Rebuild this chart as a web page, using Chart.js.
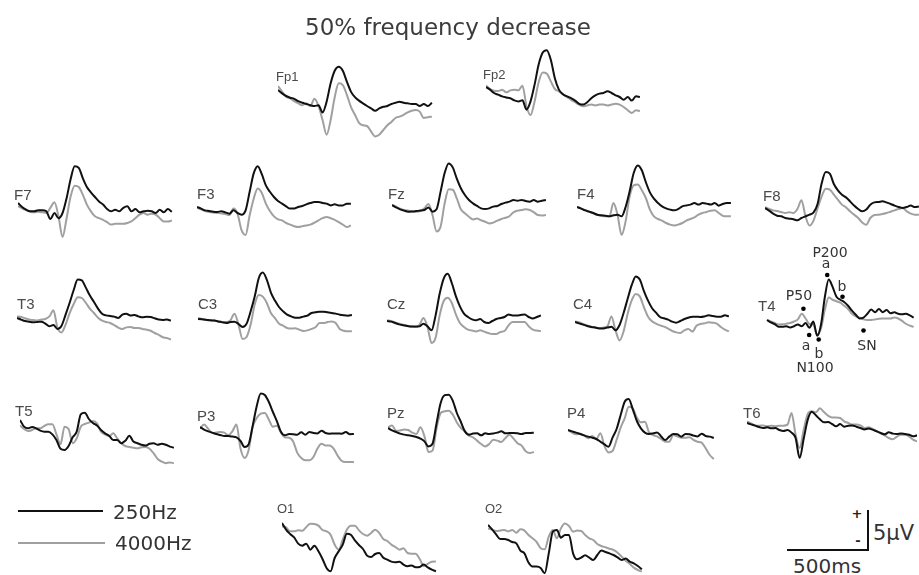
<!DOCTYPE html>
<html><head><meta charset="utf-8">
<script src="https://cdn.jsdelivr.net/npm/chart.js@4.4.0/dist/chart.umd.min.js"></script>
<style>
html,body{margin:0;padding:0;width:919px;height:575px;overflow:hidden;background:#fff;}
#stage{position:relative;width:919px;height:575px;overflow:hidden;}
canvas{position:absolute;}
.t{position:absolute;white-space:nowrap;line-height:1;color:#444;}
</style></head><body><div id="stage"></div>
<script>
// time axis (ms), 25 ms steps
const times = [-200,-175,-150,-125,-100,-75,-50,-25,0,25,50,75,100,125,150,175,200,225,250,275,300,325,350,375,400,425,450,475,500,525,550,575,600,625,650,675,700,725,750,775,800,825,850];

// amplitudes in microvolts (positive up); *_250 = 250Hz (black), *_4000 = 4000Hz (gray)
const fp1_250 = [0,-0.42,-0.75,-0.96,-1.1,-1.4,-1.6,-1.75,-1.9,-2.0,-1.9,-2.8,-1.46,0.83,2.4,2.9,2.4,1.04,-0.2,-0.9,-1.33,-1.67,-2.0,-2.3,-2.6,-2.3,-2.1,-2.0,-1.75,-1.6,-1.46,-1.6,-1.67,-1.75,-1.75,-2.0,-1.75,-2.0,-1.6];
const fp1_4000 = [0.5,-0.2,-0.83,-1.04,-1.4,-1.67,-1.9,-1.67,-2.0,-1.1,-2.0,-3.75,-5.6,-3.75,-0.9,0.83,0.62,-0.6,-2.1,-3.1,-4.1,-4.4,-4.5,-5.2,-5.8,-5.6,-5.0,-4.4,-4.0,-3.5,-3.33,-3.1,-2.8,-2.6,-2.5,-2.7,-3.5,-3.4,-3.33];
const fp2_250 = [0,-0.33,-0.75,-0.96,-1.17,-1.3,-1.4,-1.67,-1.8,-1.67,-2.83,-1.8,0.3,2.8,4.3,4.6,3.4,1.1,-0.33,-0.9,-1.17,-1.4,-1.7,-2.1,-2.2,-1.9,-1.4,-1.04,-0.83,-0.75,-0.54,-0.75,-1.04,-1.25,-1.6,-1.25,-1.7,-1.17,-1.25];
const fp2_4000 = [0.17,-0.25,-0.46,-0.5,-0.33,-0.67,-0.42,-0.33,-0.42,0.17,-2.4,-3.5,-1.8,0.6,1.8,1.67,0.7,-0.25,-0.54,-0.9,-1.25,-1.6,-1.9,-2.2,-2.4,-2.3,-2.2,-2.3,-2.2,-2.2,-2.3,-2.2,-2.1,-2.2,-2.5,-2.9,-3.25,-2.9,-3.0];
const f7_250 = [0,-0.5,-0.83,-1.04,-1.04,-0.9,-0.9,-1.04,-2.0,-1.25,-1.9,-1.25,0.6,3.0,4.6,4.4,3.1,2.0,1.33,0.75,0.2,-0.2,-0.75,-1.04,-0.83,-1.04,-0.6,-0.4,-1.04,-0.75,-1.17,-1.04,-0.96,-1.04,-1.25,-0.83,-1.17,-0.75,-1.1];
const f7_4000 = [-0.4,-0.67,-0.9,-1.1,-1.17,-1.1,-1.17,-1.25,-0.6,0.08,-1.67,-4.25,-1.9,0.83,2.17,2.0,1.04,-0.2,-1.04,-1.67,-1.9,-2.1,-2.4,-2.7,-2.6,-2.6,-2.6,-2.5,-2.3,-1.9,-1.46,-1.25,-1.46,-1.33,-1.46,-1.9,-2.3,-2.3,-2.2];
const f3_250 = [0,-0.2,-0.42,-0.5,-0.58,-0.62,-0.54,-0.67,-0.83,-0.42,-0.75,-0.96,-0.42,1.9,4.2,5.1,4.1,2.7,1.9,1.25,0.75,0.42,0.08,-0.2,-0.2,0,0.12,0.33,0.5,0.62,0.62,0.5,0.42,0.2,0.33,0.2,0.2,0.42,0.42];
const f3_4000 = [-0.08,-0.3,-0.5,-0.62,-0.7,-0.75,-0.8,-0.88,-1.0,-0.2,-0.83,-2.9,-3.5,-1.04,1.04,2.3,1.75,0.42,-0.5,-1.17,-1.54,-1.67,-2.0,-2.2,-2.4,-2.5,-2.4,-2.3,-2.2,-1.96,-1.67,-1.4,-1.25,-1.4,-1.6,-1.9,-2.2,-2.5,-2.3];
const fz_250 = [0,-0.3,-0.54,-0.7,-0.83,-0.8,-0.75,-0.7,-0.62,-0.3,-0.83,-0.54,1.67,4.0,5.2,4.7,3.3,2.1,1.25,0.62,0.2,-0.12,-0.42,-0.5,-0.42,-0.2,-0.12,0.12,0.3,0.42,0.62,0.54,0.62,0.5,0.42,0.62,0.42,0.54,0.62];
const fz_4000 = [0,-0.2,-0.46,-0.62,-0.7,-0.8,-0.83,-0.75,-0.42,0.12,-1.25,-3.3,-2.7,0.2,1.96,1.9,0.83,-0.54,-1.04,-1.46,-1.8,-1.7,-1.9,-2.1,-2.3,-2.2,-1.96,-1.75,-1.6,-1.4,-0.9,-0.7,-0.62,-0.54,-0.62,-0.9,-1.25,-1.3,-1.25];
const f4_250 = [0,-0.2,-0.42,-0.58,-0.75,-0.96,-1.04,-1.1,-1.17,-1.04,-0.96,-1.17,0,1.96,4.25,5.2,4.6,3.1,1.83,1.04,0.5,0.08,-0.17,-0.33,-0.42,-0.25,0.08,0.2,0.3,0.5,0.3,0.5,0.42,0.3,0.5,0.17,0.38,0.5,0.5];
const f4_4000 = [0,-0.17,-0.38,-0.58,-0.8,-0.96,-1.1,-1.17,-1.17,0.5,-0.96,-3.5,-1.8,1.33,2.7,2.8,2.1,1.125,-0.33,-1.17,-1.5,-1.7,-2.0,-2.2,-2.3,-2.2,-2.0,-1.7,-1.5,-1.3,-0.96,-0.75,-0.62,-0.46,-0.42,-0.75,-1.1,-1.17,-1.17];
const f8_250 = [0,-0.33,-0.7,-0.96,-1.04,-1.25,-1.33,-1.4,-1.54,-1.25,-1.04,-0.83,-0.54,0.54,3.1,4.5,4.3,3.0,2.2,1.67,1.33,0.83,0.3,-0.12,-0.42,-0.2,0.42,0.7,0.75,0.83,0.7,0.5,0.3,0.12,0,0.12,0.3,0.12,0.2];
const f8_4000 = [0.12,-0.12,-0.3,-0.38,-0.5,-0.62,-0.54,-0.62,-0.12,0.96,-1.04,-2.2,-1.54,0,1.46,2.4,2.3,1.67,1.04,0.42,0.08,-0.42,-0.83,-1.25,-1.8,-2.1,-1.25,-0.88,-0.83,-0.75,-0.62,-0.46,-0.3,-0.12,0,-0.42,-0.7,-0.83,-0.83];
const t3_250 = [0,-0.2,-0.38,-0.46,-0.54,-0.5,-0.46,-0.7,-1.04,-0.88,-1.375,-0.96,0.42,1.9,3.5,4.8,4.7,3.8,2.8,2.0,1.17,0.54,0.33,0.25,0.17,0,0.42,0.54,0.3,0.38,0.2,0.08,0.17,0.12,-0.04,-0.2,-0.25,-0.2,-0.33];
const t3_4000 = [0.2,0.12,-0.04,-0.2,-0.25,-0.3,-0.2,-0.12,0.2,0.96,-1.25,-1.8,-0.83,0.62,1.75,2.6,2.5,1.9,1.17,0.62,0.04,-0.33,-0.5,-0.62,-0.88,-1.2,-1.375,-1.17,-1.125,-1.25,-1.25,-1.375,-1.46,-1.6,-1.875,-2.1,-2.4,-2.5,-2.7];
const c3_250 = [0,-0.04,-0.08,-0.17,-0.2,-0.3,-0.42,-0.5,-0.375,-0.33,-0.62,-1.0,-0.58,0.96,2.8,5.1,5.8,4.9,3.3,2.3,1.5,0.96,0.54,0.33,0.17,0.17,0.3,0.42,0.75,0.83,0.92,0.92,0.83,0.75,0.67,0.54,0.46,0.42,0.5];
const c3_4000 = [0.12,0,-0.12,-0.17,-0.2,-0.3,-0.375,-0.375,-0.17,0.67,-0.7,-2.5,-2.25,-0.7,1.8,3.0,2.8,2.0,0.75,0.12,-0.58,-0.83,-1.125,-1.2,-1.17,-1.33,-1.5,-1.42,-1.25,-1.04,-0.5,-0.5,-0.375,-0.3,-0.5,-1.25,-1.46,-1.54,-1.54];
const cz_250 = [0,-0.08,-0.25,-0.42,-0.54,-0.62,-0.7,-0.7,-0.67,-0.33,-0.67,-1.17,0.7,3.4,5.3,5.9,4.75,3.1,1.83,0.92,0.5,0.2,0.08,0.25,-0.125,-0.25,0,0.25,0.375,0.5,0.8,0.7,0.7,0.75,0.8,0.5,0.3,0.5,0.7];
const cz_4000 = [0.08,0,-0.17,-0.33,-0.46,-0.58,-0.7,-0.75,-0.5,0.375,-0.75,-2.75,-2.1,0.7,2.5,2.9,2.25,0.83,-0.25,-0.75,-1.08,-1.2,-1.3,-1.17,-1.33,-1.5,-1.625,-1.625,-1.375,-1.25,-0.54,-0.125,-0.125,-0.125,-0.125,-0.67,-1.08,-1.2,-1.25];
const c4_250 = [0,-0.17,-0.33,-0.5,-0.62,-0.7,-0.8,-0.8,-0.7,-0.58,-1.04,-0.375,1.125,2.9,4.6,5.7,5.3,3.9,2.7,1.75,1.17,0.625,0.46,0.3,0.04,-0.08,0.125,0.375,0.54,0.67,0.67,0.625,0.7,0.83,0.75,0.67,0.67,0.83,0.7];
const c4_4000 = [0.08,-0.04,-0.25,-0.42,-0.58,-0.67,-0.75,-0.7,-0.54,0.7,-1.04,-2.3,-1.17,1.04,2.7,3.5,3.2,1.875,0.7,0.08,-0.2,-0.42,-0.58,-0.83,-1.125,-1.3,-1.375,-1.04,-0.875,-1.2,-0.46,-0.25,-0.17,-0.04,-0.08,-0.2,-0.625,-0.96,-1.17];
const t4_250 = [0,-0.33,-0.54,-0.9,-0.9,-0.83,-1.0,-0.83,-0.6,-0.83,-0.4,-1.04,-0.2,-2.1,-0.6,3.1,5.4,4.4,3.1,2.7,2.4,1.9,1.25,0.7,0.2,0.33,0.83,1.4,1.04,1.46,1.04,1.33,0.9,1.04,0.83,0.75,0.83,0.62,0.33];
const t4_4000 = [0,-0.2,-0.4,-0.6,-0.58,-0.5,-0.4,-0.2,0.08,0.83,0.2,-0.54,-0.6,-2.0,-1.1,1.4,3.0,2.7,2.5,2.3,1.9,1.46,0.83,0.5,0.3,0.08,0,0,0.08,0.17,0.2,0.2,0.2,0.33,0.2,-0.12,-0.5,-0.75,-0.9];
const t5_250 = [0,-0.83,-1.04,-0.875,-1.04,-1.33,-1.46,-1.46,-1.8,-2.5,-3.6,-3.75,-3.25,-2.17,-1.46,0.7,0.92,0.125,-0.375,-0.7,-1.25,-1.67,-1.96,-2.5,-2.5,-2.9,-2.6,-1.96,-2.7,-2.9,-3.1,-3.2,-2.96,-2.9,-3.1,-2.96,-3.1,-3.33,-3.46];
const t5_4000 = [-0.7,-1.125,-1.375,-1.25,-1.04,-1.04,-0.75,-0.54,-0.54,-1.8,-3.04,-0.83,-1.125,-2.9,-2.3,-0.83,-0.5,-0.33,-0.125,-0.42,-1.46,-1.8,-2.04,-1.67,-2.3,-2.9,-3.25,-3.375,-3.46,-3.54,-3.4,-3.375,-3.6,-4.17,-4.875,-5.2,-5.4,-5.3,-5.4];
const p3_250 = [0,-0.33,-0.54,-0.7,-0.875,-1.0,-1.125,-1.125,-1.2,-1.3,-1.75,-2.5,-2.17,0.125,2.6,4.2,4.0,3.125,1.875,0.7,-0.625,-1.04,-0.875,-0.9,-0.96,-0.67,-0.96,-0.625,-0.75,-0.8,-0.46,-0.75,-0.83,-0.8,-0.8,-0.83,-0.625,-0.9,-0.875];
const p3_4000 = [-0.2,0.3,-0.2,-0.75,-0.7,-0.625,-0.7,-1.04,-0.54,0.3,-2.7,-3.875,-2.9,0,1.125,1.67,1.75,0.92,0.04,0.17,-0.7,-1.3,-1.33,-1.8,-3.2,-3.875,-4.17,-4.17,-3.75,-2.7,-2.1,-2.3,-2.3,-2.7,-3.6,-4.25,-4.375,-4.375,-4.375];
const pz_250 = [0,-0.3,-0.5,-0.7,-0.83,-0.92,-1.0,-1.125,-1.33,-1.67,-2.3,-1.96,0.625,3.125,4.1,4.17,3.4,1.875,0.75,-0.42,-0.83,-0.7,-0.67,-0.92,-0.67,-0.75,-0.7,-0.58,-0.42,-0.67,-0.625,-0.625,-0.67,-0.75,-0.625,-0.625,-0.58];
const pz_4000 = [0.08,0.3,-0.33,-0.3,-0.2,-0.25,-0.58,-0.75,0.08,-1.04,-3.0,-2.83,0,1.875,2.08,2.17,1.67,0.7,0,-0.46,-0.96,-1.17,-1.58,-2.0,-2.3,-2.0,-1.46,-1.58,-1.75,-1.25,-0.83,-1.33,-1.9,-2.2,-2.9,-3.125,-3.0];
const p4_250 = [0,-0.17,-0.33,-0.5,-0.67,-0.83,-0.96,-1.125,-1.46,-1.8,-2.08,-0.96,0.125,1.875,3.54,3.875,2.58,1.125,0.2,-0.33,-0.5,-0.42,-0.3,-0.8,-1.25,-0.83,-0.5,-0.54,-0.83,-0.5,-0.54,-0.7,-0.8,-0.46,-0.75,-0.83,-1.0];
const p4_4000 = [0,-0.33,-0.54,-0.46,-0.7,-1.04,-0.75,-1.125,-0.42,-2.0,-2.8,-2.625,-1.25,0.3,1.46,2.9,2.7,1.54,0.96,1.04,-0.3,-0.625,-0.8,-1.125,-1.46,-1.46,-0.625,-0.8,-0.96,-0.96,-0.92,-1.25,-1.46,-1.58,-2.3,-3.125,-3.625];
const t6_250 = [0,-0.17,-0.33,-0.5,-0.625,-0.54,-0.67,-0.625,-0.875,-1.0,-0.875,-1.2,-1.875,-4.375,-1.96,0.42,1.4,0.96,0.46,0.08,0.125,-0.125,-0.42,-0.125,-0.46,-0.33,-0.3,-0.46,-0.625,-0.8,-0.7,-0.83,-1.04,-1.25,-1.42,-1.17,-1.33,-1.375,-1.3,-1.375,-1.46,-1.67,-1.54];
const t6_4000 = [0.2,-0.04,-0.3,-0.33,-0.3,-0.42,-0.33,-0.42,-0.33,-0.33,-0.2,1.25,-1.46,-3.125,-0.83,1.125,1.46,1.33,1.83,1.375,0.92,0.7,0.7,0.625,0.21,0,-0.2,-0.2,-0.3,-0.625,-0.54,-0.75,-1.0,-1.25,-1.54,-1.875,-2.04,-1.71,-1.46,-1.46,-1.67,-2.08,-2.3];
const o1_250 = [0,-0.83,-1.375,-1.8,-2.58,-2.83,-2.58,-3.33,-2.83,-3.54,-4.5,-5.625,-6.04,-4.375,-3.54,-2.7,-1.33,-1.46,-2.17,-2.75,-3.25,-4.08,-4.25,-3.875,-3.75,-4.33,-4.58,-4.83,-4.9,-4.83,-5.2,-5.4,-5.3,-5.54,-5.5,-5.2,-5.54,-5.83,-6.04];
const o1_4000 = [-0.42,-0.54,-1.04,-1.04,-0.92,-0.96,-0.5,-0.08,-0.125,-0.33,-0.875,-1.04,-1.46,-2.7,-3.33,-2.08,-0.83,-0.33,-0.33,-0.92,-1.375,-1.58,-1.25,-0.83,-1.25,-2.0,-2.25,-2.7,-3.0,-3.33,-3.17,-3.75,-3.83,-3.83,-4.5,-5.4,-5.1,-4.83,-4.8];
const o2_250 = [0,-0.54,-1.17,-1.75,-1.75,-1.875,-2.125,-2.3,-3.2,-3.54,-4.7,-5.2,-5.2,-5.375,-6.04,-3.54,-0.83,-0.625,-1.58,-1.25,-1.25,-3.54,-4.29,-4.08,-3.79,-4.08,-4.375,-3.75,-3.2,-3.375,-3.54,-3.75,-4.04,-4.375,-4.2,-4.58,-4.79,-5.125,-5.54];
const o2_4000 = [-0.42,-0.58,-0.75,-0.7,-0.625,-0.8,-0.625,-0.96,-0.54,-0.7,-1.25,-1.67,-2.125,-2.9,-3.04,-1.46,-0.625,-1.67,-0.42,0.2,-0.125,-0.83,-0.7,-0.75,-1.25,-1.67,-1.875,-2.375,-2.625,-2.79,-2.96,-3.125,-3.46,-3.96,-4.46,-4.875,-5.33,-5.625,-5.83];

// T4 component markers
const t4MarkTimes = [36, 73, 135, 190, 289, 425];
const t4MarkValues = [1.5, -2.0, -2.6, 6.0, 3.1, -1.4];

const seriesNames = ['250Hz', '4000Hz'];
const titleText = '50% frequency decrease';

// ---- layout ----
const stage = document.getElementById('stage');
function addText(txt, x, y, o) {
  o = o || {};
  const d = document.createElement('div');
  d.className = 't';
  d.textContent = txt;
  d.style.left = x + 'px';
  d.style.top = y + 'px';
  d.style.fontFamily = o.font || '"Liberation Sans", Arial, sans-serif';
  d.style.fontSize = (o.size || 15) + 'px';
  if (o.color) d.style.color = o.color;
  if (o.bold) d.style.fontWeight = 'bold';
  d.style.transform = o.center ? 'translate(-50%,-50%)' : 'translate(0,-50%)';
  stage.appendChild(d);
}
function addBox(x, y, w, h, color) {
  const d = document.createElement('div');
  d.style.position = 'absolute';
  d.style.left = x + 'px'; d.style.top = y + 'px';
  d.style.width = w + 'px'; d.style.height = h + 'px';
  d.style.background = color;
  stage.appendChild(d);
}

const BLACK = '#111111', GRAY = '#a0a0a0';
const PX_PER_MS = 81 / 500, PX_PER_UV = 8;
const W = 170, H = 130;

const panels = [
  {name:'Fp1', x:278, y:90,  lx:276, ly:76,  b:fp1_250, g:fp1_4000, ls:13},
  {name:'Fp2', x:486, y:87,  lx:483, ly:74,  b:fp2_250, g:fp2_4000, ls:13},
  {name:'F7',  x:18,  y:203, lx:14,  ly:194, b:f7_250,  g:f7_4000},
  {name:'F3',  x:197, y:207, lx:197, ly:193, b:f3_250,  g:f3_4000},
  {name:'Fz',  x:392, y:205, lx:388, ly:193, b:fz_250,  g:fz_4000},
  {name:'F4',  x:577, y:207, lx:577, ly:193, b:f4_250,  g:f4_4000},
  {name:'F8',  x:765, y:208, lx:763, ly:195, b:f8_250,  g:f8_4000},
  {name:'T3',  x:17,  y:318, lx:17,  ly:303, b:t3_250,  g:t3_4000},
  {name:'C3',  x:198, y:319, lx:198, ly:303, b:c3_250,  g:c3_4000},
  {name:'Cz',  x:387, y:321, lx:387, ly:303, b:cz_250,  g:cz_4000},
  {name:'C4',  x:575, y:322, lx:573, ly:303, b:c4_250,  g:c4_4000},
  {name:'T4',  x:763, y:320, lx:758, ly:305, b:t4_250,  g:t4_4000, marks:true},
  {name:'T5',  x:20,  y:420, lx:15,  ly:410, b:t5_250,  g:t5_4000},
  {name:'P3',  x:200, y:427, lx:197, ly:415, b:p3_250,  g:p3_4000},
  {name:'Pz',  x:388, y:428, lx:387, ly:412, b:pz_250,  g:pz_4000},
  {name:'P4',  x:568, y:430, lx:567, ly:412, b:p4_250,  g:p4_4000},
  {name:'T6',  x:747, y:423, lx:743, ly:412, b:t6_250,  g:t6_4000},
  {name:'O1',  x:282, y:523, lx:277, ly:508, b:o1_250,  g:o1_4000, ls:13},
  {name:'O2',  x:488, y:525, lx:485, ly:508, b:o2_250,  g:o2_4000, ls:13}
];

const xMin = times[0];
const xMax = xMin + W / PX_PER_MS;
const yHalf = (H / 2) / PX_PER_UV;
const toPts = arr => arr.map((v, i) => ({x: times[i], y: v}));

panels.forEach(p => {
  const c = document.createElement('canvas');
  c.width = W; c.height = H;
  c.style.left = p.x + 'px';
  c.style.top = (p.y - H / 2) + 'px';
  c.style.width = W + 'px'; c.style.height = H + 'px';
  stage.appendChild(c);
  const ds = [
    {label: seriesNames[0], data: toPts(p.b), borderColor: BLACK, borderWidth: 2, pointRadius: 0, cubicInterpolationMode: 'monotone', clip: false},
    {label: seriesNames[1], data: toPts(p.g), borderColor: GRAY, borderWidth: 2, pointRadius: 0, cubicInterpolationMode: 'monotone', clip: false}
  ];
  if (p.marks) {
    ds.unshift({label: 'marks', data: t4MarkTimes.map((t, i) => ({x: t, y: t4MarkValues[i]})),
      showLine: false, pointRadius: 2.3, pointBackgroundColor: '#000', pointBorderColor: '#000', pointBorderWidth: 0, clip: false});
  }
  new Chart(c, {
    type: 'line',
    data: {datasets: ds},
    options: {
      responsive: false, animation: false, devicePixelRatio: 1, events: [],
      layout: {padding: 0},
      plugins: {legend: {display: false}, tooltip: {enabled: false}, title: {display: false}},
      scales: {
        x: {type: 'linear', min: xMin, max: xMax, display: false},
        y: {type: 'linear', min: -yHalf, max: yHalf, display: false}
      }
    }
  });
  addText(p.name, p.lx, p.ly, {size: p.ls || 15, color: '#4a4a4a'});
});

// title
addText(titleText, 448, 27, {font: '"DejaVu Sans", sans-serif', size: 23, color: '#3c3c3c', center: true});

// T4 annotation labels
const annFont = '"DejaVu Sans", sans-serif';
addText('P200', 830, 252, {font: annFont, size: 14, color: '#333', center: true});
addText('a', 826, 263, {font: annFont, size: 14, color: '#333', center: true});
addText('b', 842, 286, {font: annFont, size: 14, color: '#333', center: true});
addText('P50', 799, 295, {font: annFont, size: 14, color: '#333', center: true});
addText('a', 806, 345, {font: annFont, size: 14, color: '#333', center: true});
addText('b', 819, 353, {font: annFont, size: 14, color: '#333', center: true});
addText('N100', 815, 367, {font: annFont, size: 14, color: '#333', center: true});
addText('SN', 867, 345, {font: annFont, size: 14, color: '#333', center: true});

// legend
addBox(18, 510, 85, 2, BLACK);
addText(seriesNames[0], 113, 512, {font: annFont, size: 20, color: '#333'});
addBox(18, 542, 87, 2, GRAY);
addText(seriesNames[1], 115, 543, {font: annFont, size: 20, color: '#333'});

// scale bar
addBox(787, 549, 82, 2, BLACK);
addBox(867, 510, 2, 41, BLACK);
addText('+', 857, 513, {font: annFont, size: 13, color: '#222', bold: true, center: true});
addText('-', 858, 540, {font: annFont, size: 13, color: '#222', bold: true, center: true});
addText('5\u03bcV', 873, 533, {font: annFont, size: 21, color: '#333'});
addText('500ms', 793, 566, {font: annFont, size: 20, color: '#333'});
</script></body></html>
